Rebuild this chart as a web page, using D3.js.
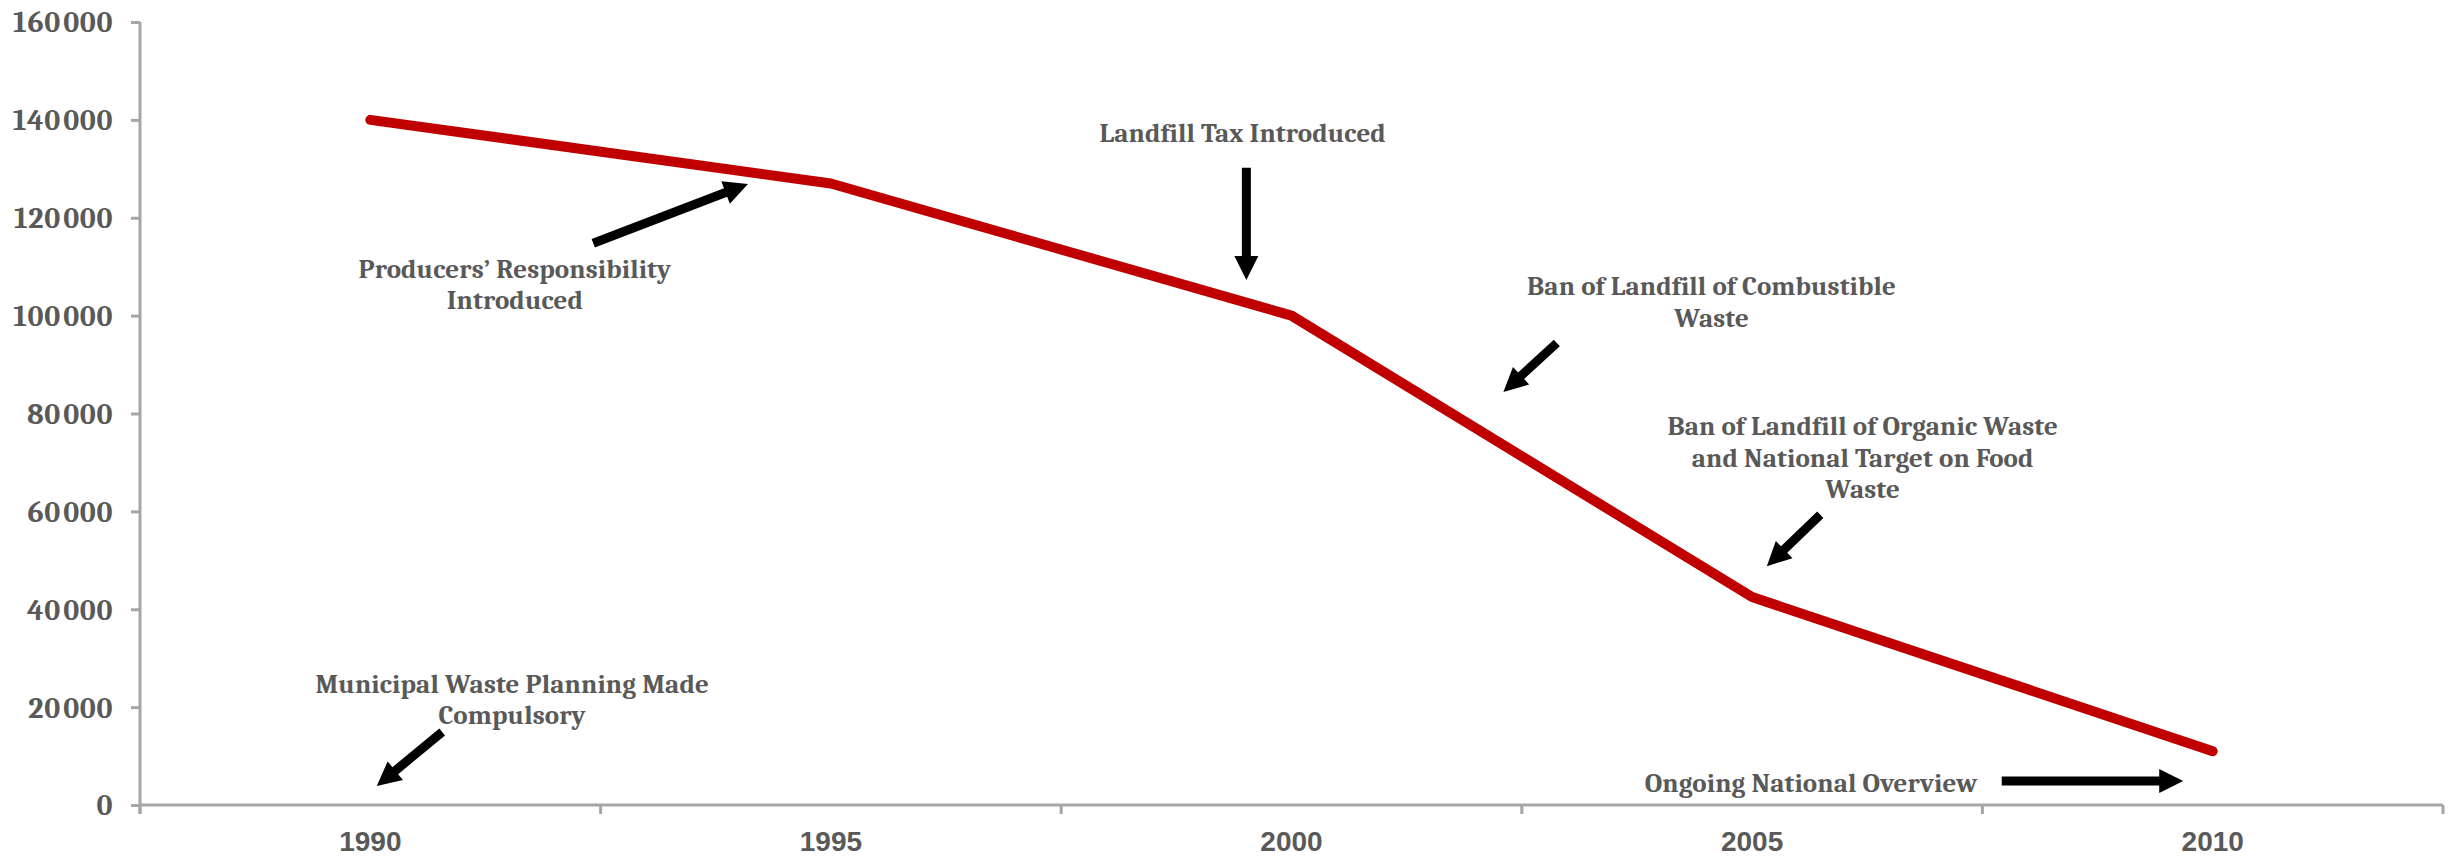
<!DOCTYPE html>
<html>
<head>
<meta charset="utf-8">
<script src="https://cdn.jsdelivr.net/npm/d3@7/dist/d3.min.js"></script>
<style>
  html, body { margin: 0; padding: 0; background: #ffffff; }
  svg { display: block; }
</style>
</head>
<body>
<svg id="chart" width="2454" height="856"></svg>
<script>
// Municipal waste sent to landfill (tonnes), by year
const years = [1990, 1995, 2000, 2005, 2010];
const landfillTonnes = [140000, 127000, 100000, 42500, 11000];
const yTicks = [0, 20000, 40000, 60000, 80000, 100000, 120000, 140000, 160000];

// Policy milestones: label lines, text anchor (year, value) and arrow from/to (year, value)
const noteLabels = [
  ["Municipal Waste Planning Made", "Compulsory"],
  ["Producers\u2019 Responsibility", "Introduced"],
  ["Landfill Tax Introduced"],
  ["Ban of Landfill of Combustible", "Waste"],
  ["Ban of Landfill of Organic Waste", "and National Target on Food", "Waste"],
  ["Ongoing National Overview"]
];
const noteTextAt = [[1991.54, 22900], [1991.57, 107700], [1999.47, 135500], [2004.56, 104200], [2006.20, 75600], [2005.64, 2700]];
const noteArrowFrom = [[1990.78, 14900], [1992.42, 114800], [1999.51, 130200], [2002.88, 94400], [2005.74, 59300], [2007.71, 4900]];
const noteArrowTo = [[1990.07, 3900], [1994.10, 126900], [1999.51, 107300], [2002.30, 84400], [2005.16, 48800], [2009.68, 4900]];

const margin = { left: 140, right: 11, top: 22, bottom: 51 };
const W = 2454, H = 856;
const plotL = margin.left, plotR = W - margin.right;
const plotT = margin.top, plotB = H - margin.bottom;

const svg = d3.select("#chart");
const textColor = "#595959";
const axisColor = "#a6a6a6";

const x = d3.scaleBand().domain(years).range([plotL, plotR]).padding(0);
const xc = d => x(d) + x.bandwidth() / 2;
// continuous year scale aligned with the category bands, used for annotations
const xYear = d3.scaleLinear().domain([years[0] - 2.5, years[years.length - 1] + 2.5]).range([plotL, plotR]);
const y = d3.scaleLinear().domain([0, 160000]).range([plotB, plotT]);

// Y axis
const fmt = v => {
  const s = String(v);
  return s.length > 3 ? s.slice(0, -3) + "\u200A" + s.slice(-3) : s;
};
const yAxis = svg.append("g")
  .attr("transform", `translate(${plotL},0)`)
  .call(d3.axisLeft(y).tickValues(yTicks).tickSize(9).tickPadding(18).tickFormat(fmt));
yAxis.select(".domain").attr("stroke", axisColor).attr("stroke-width", 3)
  .attr("d", `M0,${plotT}V${plotB + 9}`);
yAxis.selectAll(".tick line").attr("stroke", axisColor).attr("stroke-width", 3);
yAxis.selectAll(".tick text")
  .attr("fill", textColor)
  .attr("font-family", "Cambria, 'Liberation Serif', serif")
  .attr("font-weight", "bold")
  .attr("font-size", 30)
  .attr("letter-spacing", 0.6)
  .attr("dy", "0.33em");

// X axis (category labels centred in bands, ticks on band edges)
const xAxis = svg.append("g")
  .attr("transform", `translate(0,${plotB})`)
  .call(d3.axisBottom(x).tickSize(0).tickPadding(0));
xAxis.select(".domain").attr("stroke", axisColor).attr("stroke-width", 3)
  .attr("d", `M${plotL},0H${plotR}`);
xAxis.selectAll(".tick text")
  .attr("fill", textColor)
  .attr("font-family", "'Tw Cen MT', 'Liberation Sans', Arial, sans-serif")
  .attr("font-weight", "bold")
  .attr("font-size", 28)
  .attr("y", 46)
  .attr("dy", 0);
const edges = years.map(d => x(d)).concat([plotR]);
svg.append("g").selectAll("line").data(edges).join("line")
  .attr("x1", d => d).attr("x2", d => d)
  .attr("y1", plotB).attr("y2", plotB + 9)
  .attr("stroke", axisColor).attr("stroke-width", 3);

// Data line
const series = years.map((yr, i) => ({ yr, v: landfillTonnes[i] }));
svg.append("path")
  .datum(series)
  .attr("fill", "none")
  .attr("stroke", "#c00000")
  .attr("stroke-width", 10)
  .attr("stroke-linecap", "round")
  .attr("stroke-linejoin", "round")
  .attr("d", d3.line().x(d => xc(d.yr)).y(d => y(d.v)));

// Annotations
const notes = svg.append("g");
noteLabels.forEach((lines, i) => {
  const tx = xYear(noteTextAt[i][0]);
  const ty = y(noteTextAt[i][1]);
  const t = notes.append("text")
    .attr("x", tx).attr("y", ty)
    .attr("text-anchor", "middle")
    .attr("fill", textColor)
    .attr("font-family", "Cambria, 'Liberation Serif', serif")
    .attr("font-weight", "bold")
    .attr("font-size", 27)
    .attr("letter-spacing", 0.12);
  lines.forEach((ln, j) => {
    t.append("tspan").attr("x", tx).attr("dy", j === 0 ? 0 : 31.5).text(ln);
  });

  // Arrow: thick shaft plus triangular head
  const x1 = xYear(noteArrowFrom[i][0]), y1 = y(noteArrowFrom[i][1]);
  const x2 = xYear(noteArrowTo[i][0]), y2 = y(noteArrowTo[i][1]);
  const len = Math.hypot(x2 - x1, y2 - y1);
  const ux = (x2 - x1) / len, uy = (y2 - y1) / len;
  const px = -uy, py = ux;
  const headLen = 24, headHalf = 12, shaftHalf = 4.5;
  const bx = x2 - ux * headLen, by = y2 - uy * headLen;
  const pts = [
    [x1 + px * shaftHalf, y1 + py * shaftHalf],
    [bx + px * shaftHalf, by + py * shaftHalf],
    [bx + px * headHalf, by + py * headHalf],
    [x2, y2],
    [bx - px * headHalf, by - py * headHalf],
    [bx - px * shaftHalf, by - py * shaftHalf],
    [x1 - px * shaftHalf, y1 - py * shaftHalf]
  ];
  notes.append("path")
    .attr("d", "M" + pts.map(p => p.join(",")).join("L") + "Z")
    .attr("fill", "#000000");
});
</script>
</body>
</html>
